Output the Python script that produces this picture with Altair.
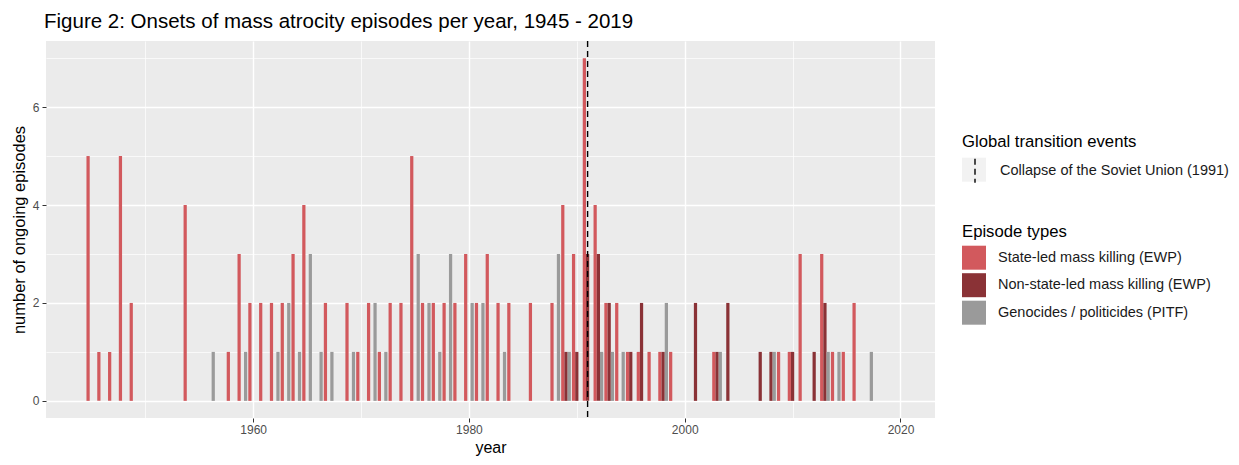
import altair as alt
import pandas as pd

# ---- data ----
state_years = [1945, 1946, 1947, 1948, 1949, 1954, 1958, 1959, 1960, 1961, 1962, 1963, 1964, 1965,
               1967, 1969, 1970, 1971, 1972, 1973, 1974, 1975, 1976, 1977, 1978, 1979, 1980, 1981,
               1982, 1983, 1984, 1986, 1988, 1989, 1990, 1991, 1992, 1993, 1994, 1995, 1996, 1997,
               1998, 1999, 2003, 2009, 2010, 2011, 2013, 2014, 2015, 2016]
state_counts = [5, 1, 1, 5, 2, 4, 1, 3, 2, 2, 2, 2, 3, 4,
                2, 2, 1, 2, 1, 2, 2, 5, 2, 2, 2, 2, 3, 2,
                3, 2, 2, 2, 2, 4, 3, 7, 4, 2, 2, 1, 1, 1,
                1, 1, 1, 1, 1, 3, 3, 1, 1, 2]

nonstate_years = [1989, 1990, 1991, 1992, 1993, 1995, 1996, 1998, 2001, 2003, 2004, 2007, 2008,
                  2010, 2012, 2013]
nonstate_counts = [1, 1, 3, 3, 2, 1, 2, 1, 2, 1, 2, 1, 1, 1, 1, 2]

pitf_years = [1956, 1959, 1962, 1963, 1964, 1965, 1966, 1967, 1969, 1971, 1972, 1975, 1976, 1977,
              1978, 1980, 1981, 1983, 1988, 1989, 1992, 1993, 1994, 1998, 2003, 2008, 2013, 2014, 2017]
pitf_counts = [1, 1, 1, 2, 1, 3, 1, 1, 1, 2, 1, 3, 2, 1,
               3, 2, 2, 1, 3, 1, 1, 1, 1, 2, 1, 1, 1, 1, 1]

type_labels = ["State-led mass killing (EWP)", "Non-state-led mass killing (EWP)",
               "Genocides / politicides (PITF)"]
type_colors = ["#D2595D", "#8A3236", "#9A9A9A"]

event_years = [1991]
event_labels = ["Collapse of the Soviet Union (1991)"]

x_ticks = [1950, 1960, 1970, 1980, 1990, 2000, 2010, 2020]
y_ticks = [0, 1, 2, 3, 4, 5, 6, 7]

# ---- tables ----
frames = []
for lab, ys, cs in zip(type_labels, [state_years, nonstate_years, pitf_years],
                       [state_counts, nonstate_counts, pitf_counts]):
    frames.append(pd.DataFrame({"year": ys, "n": cs, "type": lab}))
bars_df = pd.concat(frames, ignore_index=True)
ev_df = pd.DataFrame({"year": event_years, "event": event_labels})

FONT = "Liberation Sans"

x_scale = alt.Scale(domain=[1940.8, 2023.2], nice=False, zero=False)
y_scale = alt.Scale(domain=[-0.35, 7.35], nice=False, zero=False)

x_axis = alt.Axis(
    values=x_ticks, title="year", format="d",
    labelExpr="datum.value % 20 == 0 ? datum.label : ''",
    gridColor="white",
    gridWidth={"condition": {"test": "datum.value % 20 == 0", "value": 1.4}, "value": 0.7},
    tickOpacity={"condition": {"test": "datum.value % 20 == 0", "value": 1}, "value": 0},
    labelPadding=2, titlePadding=4,
)
y_axis = alt.Axis(
    values=y_ticks, title="number of ongoing episodes",
    labelExpr="datum.value % 2 == 0 ? datum.label : ''",
    gridColor="white",
    gridWidth={"condition": {"test": "datum.value % 2 == 0", "value": 1.4}, "value": 0.7},
    tickOpacity={"condition": {"test": "datum.value % 2 == 0", "value": 1}, "value": 0},
    labelPadding=3, titlePadding=5,
)

idx_expr = "indexof(" + str(type_labels) + ", datum.type)"

bars = alt.Chart(bars_df).transform_calculate(
    slot=idx_expr
).transform_calculate(
    x0="datum.year - 0.45 + datum.slot * 0.3",
    x1="datum.year - 0.15 + datum.slot * 0.3",
).mark_bar(strokeWidth=0).encode(
    x=alt.X("x0:Q", scale=x_scale, axis=x_axis),
    x2="x1:Q",
    y=alt.Y("n:Q", scale=y_scale, axis=y_axis),
    y2=alt.datum(0),
    color=alt.Color(
        "type:N",
        scale=alt.Scale(domain=type_labels, range=type_colors),
        legend=alt.Legend(
            title="Episode types", orient="none", legendX=916, legendY=183,
            symbolType="square", symbolSize=576, symbolStrokeWidth=0,
            rowPadding=3.5, labelOffset=12, titlePadding=5, labelLimit=0,
        ),
    ),
)

box_keys = [e + " " for e in event_labels]
box = alt.Chart(ev_df).transform_calculate(
    key="datum.event + ' '"
).mark_square(clip=True, opacity=1).encode(
    x=alt.value(-500),
    y=alt.value(-500),
    fill=alt.Fill(
        "key:N",
        scale=alt.Scale(domain=box_keys, range=["#F2F2F2"]),
        legend=alt.Legend(
            title="Global transition events", titleColor="transparent",
            labelColor="transparent", orient="none", legendX=916, legendY=93,
            symbolType="square", symbolSize=576, symbolStrokeWidth=0,
            labelOffset=12, titlePadding=7, labelLimit=0,
        ),
    ),
)

rule = alt.Chart(ev_df).mark_rule(color="black", strokeWidth=1.4).encode(
    x=alt.X("year:Q", scale=x_scale),
    strokeDash=alt.StrokeDash(
        "event:N",
        scale=alt.Scale(domain=event_labels, range=[[6, 4]]),
        legend=alt.Legend(
            title="Global transition events", orient="none", legendX=916, legendY=93,
            symbolType="M0,-1L0,1", symbolSize=576, symbolStrokeColor="black",
            symbolStrokeWidth=1.4, labelOffset=12, titlePadding=7, labelLimit=0,
        ),
    ),
)

chart = alt.layer(box, bars, rule).properties(
    width=889,
    height=377,
    background="white",
    autosize=alt.AutoSizeParams(type="none"),
    padding={"left": 38, "top": 33, "right": 296, "bottom": 39},
    title=alt.TitleParams(
        "Figure 2: Onsets of mass atrocity episodes per year, 1945 - 2019",
        anchor="start", frame="group", font=FONT, fontSize=20.5, fontWeight="normal",
        color="black", dx=-2, offset=8,
    ),
).configure_view(
    fill="#EBEBEB", strokeWidth=0
).configure_axis(
    domain=False, labelFont=FONT, labelFontSize=12, labelColor="#4D4D4D",
    tickColor="#333333", tickSize=4, tickWidth=1,
    titleFont=FONT, titleFontSize=16.5, titleFontWeight="normal", titleColor="black",
).configure_axisX(
    titleFontSize=16
).configure_legend(
    labelFont=FONT, labelFontSize=14.5, labelColor="#1A1A1A",
    titleFont=FONT, titleFontSize=16.7, titleFontWeight="normal", titleColor="black",
)

chart.save("out.html", embed_options={"renderer": "svg", "actions": False})
